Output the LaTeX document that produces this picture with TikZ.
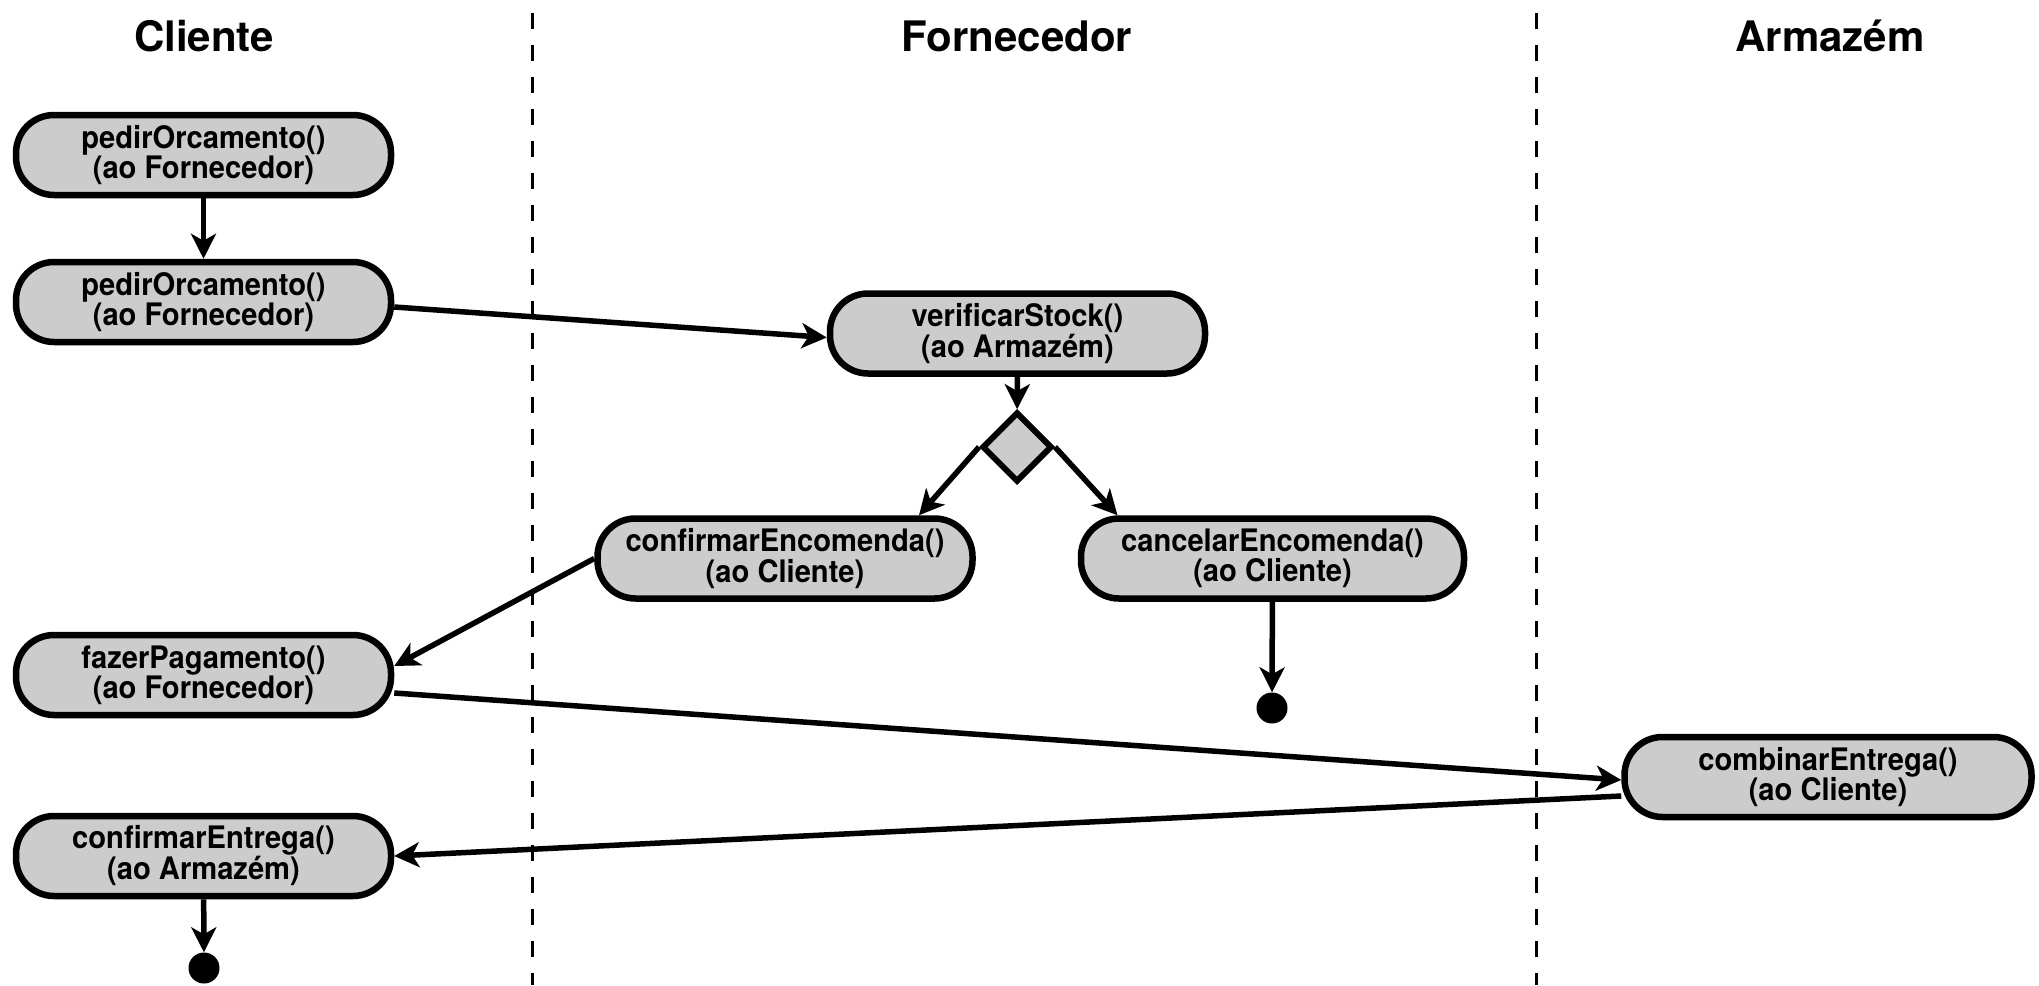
\documentclass[tikz,border=0pt]{standalone}
\usepackage{fontspec}
\setmainfont{TeX Gyre Heros}
\newfontfamily\nodefont[FakeStretch=0.94]{TeX Gyre Heros}
\usetikzlibrary{shapes.geometric,arrows.meta,calc}
\definecolor{boxgray}{HTML}{CCCCCC}
\tikzset{
  act/.style={draw=black, line width=6.5pt, fill=boxgray, rounded corners=38pt,
    minimum width=375pt, minimum height=80pt, inner sep=0pt, align=center,
    font=\nodefont\bfseries\fontsize{31pt}{26pt}\selectfont},
  title/.style={font=\bfseries\fontsize{42pt}{48pt}\selectfont, inner sep=0pt},
  decision/.style={diamond, draw=black, line width=6pt, fill=boxgray, minimum size=70pt, inner sep=0pt},
  finalnode/.style={circle, fill=black, minimum size=31pt, inner sep=0pt},
  flow/.style={line width=5.5pt, -{Stealth[length=25pt, width=25pt, inset=7pt]}},
  lane/.style={line width=3pt, dash pattern=on 16pt off 16pt}
}
\begin{document}
\begin{tikzpicture}[x=1pt, y=-1pt]
\useasboundingbox (0,0) rectangle (2039,985);
% lanes
\coordinate (l1t) at (532,13); \coordinate (l1b) at (532,985);
\coordinate (l2t) at (1536,13); \coordinate (l2b) at (1536,985);
\draw[lane] (l1t) -- (l1b);
\draw[lane] (l2t) -- (l2b);
% titles
\node[title] (tc) at (204,36) {Cliente};
\node[title] (tf) at (1017,36) {Fornecedor};
\node[title] (ta) at (1830,36) {Armazém};
% activities
\node[act] (b1) at (203.5,155) {pedirOrcamento()\\(ao Fornecedor)};
\node[act] (b2) at (203.5,302) {pedirOrcamento()\\(ao Fornecedor)};
\node[act] (vs) at (1017.5,333.5) {verificarStock()\\(ao Armazém)};
\node[decision] (d) at (1017,447) {};
\node[act] (ce) at (785,558.5) {confirmarEncomenda()\\(ao Cliente)};
\node[act, minimum width=383pt] (ca) at (1272.5,558.5) {cancelarEncomenda()\\(ao Cliente)};
\node[finalnode] (f1) at (1272,708) {};
\node[act] (fp) at (203.5,675) {fazerPagamento()\\(ao Fornecedor)};
\node[act, minimum width=407pt] (cb) at (1828,777) {combinarEntrega()\\(ao Cliente)};
\node[act] (cf) at (203.5,856) {confirmarEntrega()\\(ao Armazém)};
\node[finalnode] (f2) at (204,968) {};
% flows
\draw[flow] (b1) -- (b2);
\draw[flow] ($(b2.east)+(0,5)$) -- ($(vs.west)+(0,4)$);
\draw[flow] (vs) -- (d);
\draw[flow] (d.west) -- ($(ce.north)+(134,0)$);
\draw[flow] (d.east) -- ($(ca.north)+(-155,0)$);
\draw[flow] (ce.west) -- ($(fp.east)+(0,-9)$);
\draw[flow] ($(fp.east)+(0,18)$) -- ($(cb.west)+(0,3)$);
\draw[flow] ($(cb.west)+(0,19)$) -- (cf.east);
\draw[flow] (ca) -- (f1);
\draw[flow] (cf) -- (f2);
\end{tikzpicture}
\end{document}
